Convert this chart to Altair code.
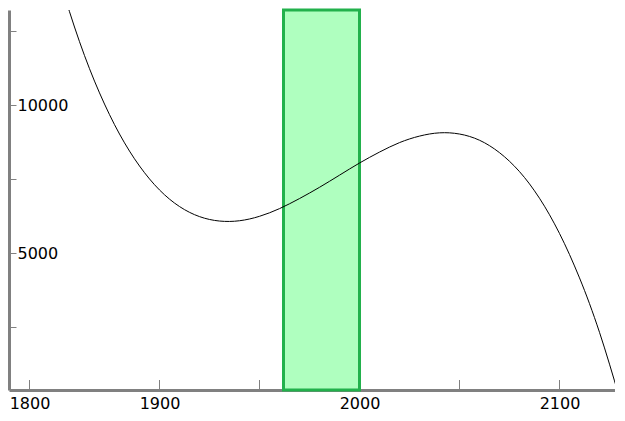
import altair as alt
import pandas as pd

# ---- data ----
curve_years = [1850, 1860, 1870, 1880, 1890, 1900, 1910, 1920, 1930, 1940,
               1950, 1960, 1970, 1980, 1990, 2000, 2010, 2020, 2030, 2040,
               2050, 2060, 2070, 2080, 2090, 2100, 2110, 2120, 2130]
curve_values = [14230, 12150, 10420, 9030, 7950, 7140, 6580, 6240, 6090, 6100,
                6250, 6510, 6850, 7230, 7640, 8050, 8420, 8740, 8960, 9070,
                9030, 8820, 8400, 7760, 6860, 5670, 4170, 2330, 120]

band_start = [1962]
band_end = [2000]

x_domain = [1824.75, 2127.75]
y_domain = [382, 13220]

x_tick_values = [1835, 1900, 1950, 2000, 2050, 2100]
x_label_values = [1835, 1900, 2000, 2100]
x_label_texts = ["1800", "1900", "2000", "2100"]

y_tick_values = [2500, 5000, 7500, 10000, 12500]
y_label_values = [5000, 10000]

W, H = 606, 380
GRAY = "#808080"
FONT = "DejaVu Sans"

curve_df = pd.DataFrame({"x": curve_years, "y": curve_values})
band_df = pd.DataFrame({"x": band_start, "x2": band_end,
                        "y": [y_domain[0]], "y2": [y_domain[1]]})
ticks_df = pd.DataFrame({"x": x_tick_values})

# label expression for x axis built from the label arrays
expr = "''"
for v, t in reversed(list(zip(x_label_values, x_label_texts))):
    expr = f"datum.value == {v} ? '{t}' : ({expr})"

x_scale = alt.Scale(domain=x_domain, nice=False, zero=False)
y_scale = alt.Scale(domain=y_domain, nice=False, zero=False)

x_axis = alt.Axis(orient="bottom", values=x_label_values, labelExpr=expr,
                  ticks=False, tickSize=0, grid=False, title=None,
                  domainColor=GRAY, domainWidth=3,
                  labelFont=FONT, labelFontSize=16, labelColor="black",
                  labelPadding=5, labelFlush=False, labelOverlap=False)

y_axis = alt.Axis(orient="right", offset=-W, values=y_tick_values,
                  labelExpr=f"indexof({y_label_values}, datum.value) >= 0 ? format(datum.value, 'd') : ''",
                  ticks=True, tickSize=7, tickColor=GRAY, tickWidth=1,
                  grid=False, title=None,
                  domainColor=GRAY, domainWidth=3,
                  labelFont=FONT, labelFontSize=16, labelColor="black",
                  labelAlign="left", labelBaseline="middle", labelPadding=1,
                  labelFlush=False, labelOverlap=False)

X = alt.X("x:Q", scale=x_scale, axis=x_axis)
Y = alt.Y("y:Q", scale=y_scale, axis=y_axis)

ticks = alt.Chart(ticks_df).mark_rule(color=GRAY, strokeWidth=1).encode(
    x=X, y=alt.value(H), y2=alt.value(H - 10)
)

band = alt.Chart(band_df).mark_rect(
    fill="#afffbf", stroke="#22b14c", strokeWidth=3
).encode(x=X, x2="x2:Q", y=Y, y2="y2:Q")

curve = alt.Chart(curve_df).mark_line(
    color="black", strokeWidth=1, clip=True, interpolate="natural"
).encode(x=X, y=Y)

chart = alt.layer(ticks, band, curve).properties(
    width=W, height=H, padding=0, background="white"
).configure_view(stroke=None)

chart.save("out.html", embed_options={"renderer": "svg", "actions": False})
